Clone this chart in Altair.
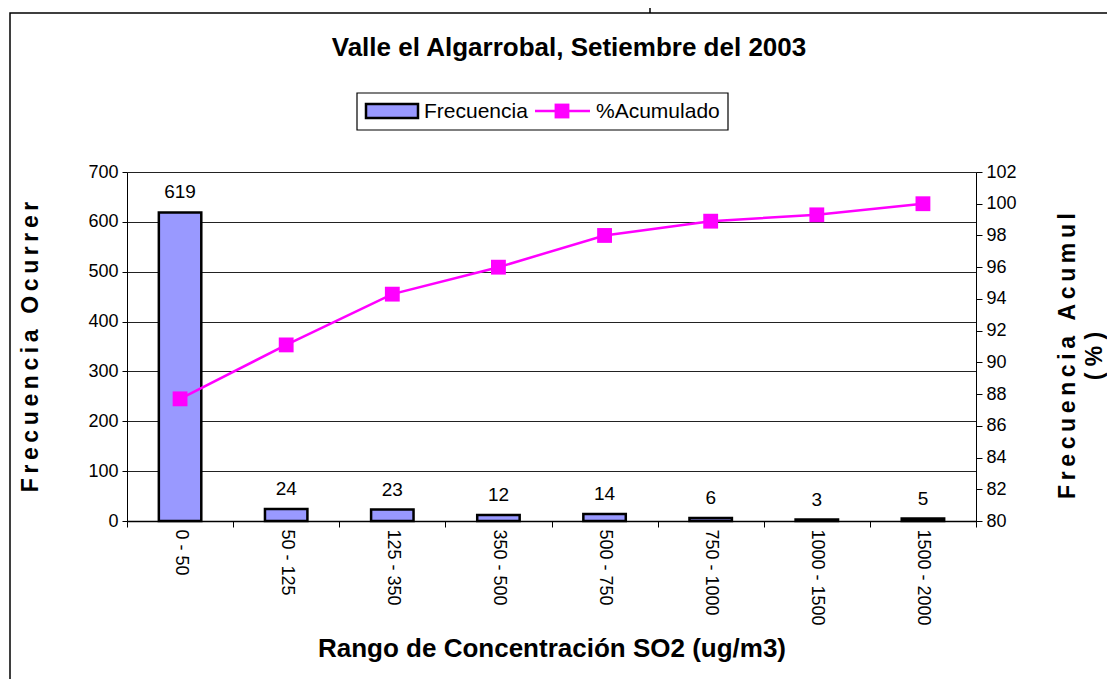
import altair as alt
import pandas as pd

categories = ["0 - 50", "50 - 125", "125 - 350", "350 - 500", "500 - 750",
              "750 - 1000", "1000 - 1500", "1500 - 2000"]
frecuencia = [619, 24, 23, 12, 14, 6, 3, 5]
acumulado = [87.7, 91.1, 94.3, 96.0, 98.0, 98.9, 99.3, 100.0]
left_ticks = [0, 100, 200, 300, 400, 500, 600, 700]
right_ticks = [80, 82, 84, 86, 88, 90, 92, 94, 96, 98, 100, 102]

FONT = "Liberation Sans"
W, H = 849, 349
NB = "\u00a0"
TS = "\u2009"

def spaced(s):
    return TS.join(list(s)).replace(TS + " " + TS, TS + NB + TS)

df = pd.DataFrame({"rango": categories, "frecuencia": frecuencia, "acumulado": acumulado})
xscale = alt.Scale(domain=categories, paddingInner=0, paddingOuter=0)
one = alt.Data(values=[{"a": 1}])

xaxis = alt.Axis(orient="bottom", title="Rango de Concentración SO2 (ug/m3)", labelAngle=90,
                 tickBand="extent", tickSize=6, tickColor="black",
                 labelFont=FONT, labelFontSize=18, labelColor="black",
                 labelPadding=2, titleFont=FONT, titleFontSize=26, titleFontWeight="bold",
                 titleColor="black", titlePadding=10, domainColor="black", domainWidth=1.5)
yaxis_left = alt.Axis(values=left_ticks, grid=True, gridColor="#222222", gridWidth=1,
                      title=spaced("Frecuencia Ocurrer"), titleFont=FONT,
                      titleFontSize=23, titleFontWeight="bold", titleColor="black", titlePadding=45,
                      labelFont=FONT, labelFontSize=18, labelColor="black", tickColor="black",
                      tickSize=5, domainColor="black", labelPadding=4)

bars = alt.Chart(df).mark_bar(width={"band": 0.4}, color="#9999FF", stroke="black",
                              strokeWidth=2.5).encode(
    x=alt.X("rango:N", sort=categories, scale=xscale, axis=xaxis),
    y=alt.Y("frecuencia:Q", scale=alt.Scale(domain=[0, 700]), axis=yaxis_left),
)

value_labels = alt.Chart(df).mark_text(font=FONT, fontSize=19, baseline="middle", dy=-20,
                                       color="black").encode(
    x=alt.X("rango:N", sort=categories, scale=xscale, axis=xaxis),
    y=alt.Y("frecuencia:Q", scale=alt.Scale(domain=[0, 700]), axis=yaxis_left),
    text="frecuencia:Q",
)

line = alt.Chart(df).mark_line(color="#FF00FF", strokeWidth=2.5,
                               point=alt.OverlayMarkDef(shape="square", size=220, color="#FF00FF",
                                                        filled=True, opacity=1)).encode(
    x=alt.X("rango:N", sort=categories, scale=xscale, axis=xaxis),
    y=alt.Y("acumulado:Q", scale=alt.Scale(domain=[80, 102]),
            axis=alt.Axis(orient="right", values=right_ticks, grid=False,
                          title=[spaced("Frecuencia Acumul"), "(" + NB + "%" + NB + ")"],
                          titleAngle=270,
                          titleFont=FONT, titleFontSize=23, titleFontWeight="bold", titleColor="black",
                          titlePadding=36, titleLineHeight=27, titleY=H / 2 + 9,
                          labelFont=FONT, labelFontSize=18, labelColor="black", tickColor="black",
                          tickSize=6, domainColor="black", labelPadding=4)),
)

# decorations (layout only)
title = alt.Chart(one).mark_text(text="Valle el Algarrobal, Setiembre del 2003", font=FONT,
                                 fontSize=26, fontWeight="bold", align="center",
                                 baseline="middle", color="black").encode(
    x=alt.value(442), y=alt.value(-124))
frame = alt.Chart(one).mark_rect(fill=None, stroke="black", strokeWidth=1.5).encode(
    x=alt.value(-117), x2=alt.value(1000), y=alt.value(-159), y2=alt.value(700))
topmark = alt.Chart(one).mark_rule(color="black", strokeWidth=1.5).encode(
    x=alt.value(523), y=alt.value(-170), y2=alt.value(-159))
legbox = alt.Chart(one).mark_rect(fill="white", stroke="black", strokeWidth=1.2).encode(
    x=alt.value(230), x2=alt.value(601), y=alt.value(-79), y2=alt.value(-42))
legsw = alt.Chart(one).mark_rect(fill="#9999FF", stroke="black", strokeWidth=2.5).encode(
    x=alt.value(239), x2=alt.value(291), y=alt.value(-68), y2=alt.value(-54))
legt1 = alt.Chart(one).mark_text(text="Frecuencia", font=FONT, fontSize=21, align="left",
                                 baseline="middle", color="black").encode(
    x=alt.value(297), y=alt.value(-60))
legline = alt.Chart(one).mark_rule(color="#FF00FF", strokeWidth=2.5).encode(
    x=alt.value(408), x2=alt.value(463), y=alt.value(-61))
legpt = alt.Chart(one).mark_point(shape="square", size=220, color="#FF00FF", filled=True,
                                  opacity=1).encode(x=alt.value(435), y=alt.value(-61))
legt2 = alt.Chart(one).mark_text(text="%Acumulado", font=FONT, fontSize=21, align="left",
                                 baseline="middle", color="black").encode(
    x=alt.value(469), y=alt.value(-60))

left = alt.layer(bars, value_labels)
chart = alt.layer(frame, topmark, left, line, title, legbox, legsw, legt1, legline, legpt, legt2).resolve_scale(
    y="independent").properties(
    width=W, height=H,
    autosize=alt.AutoSizeParams(type="none"),
    padding={"left": 119, "top": 164, "right": 131, "bottom": 158},
).configure_view(stroke=None, strokeWidth=0).configure(background="white")

chart.save("out.html", embed_options={"renderer": "svg", "actions": False})
